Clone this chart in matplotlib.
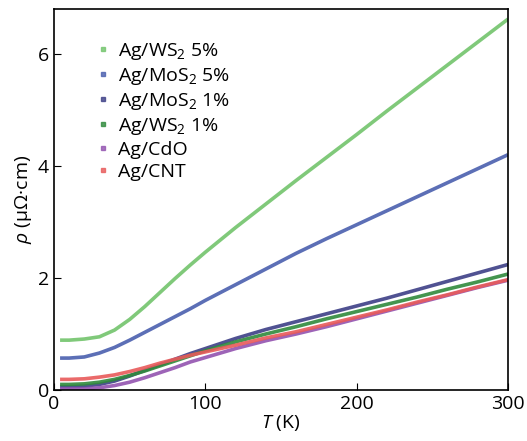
import matplotlib
matplotlib.use('Agg')
import matplotlib.pyplot as plt
from matplotlib.lines import Line2D

plt.rcParams['font.family'] = ['Open Sans', 'DejaVu Sans']
plt.rcParams['mathtext.fontset'] = 'custom'
plt.rcParams['mathtext.rm'] = 'Open Sans'
plt.rcParams['mathtext.it'] = 'Open Sans:italic'

# temperature grid (K)
T = [4, 10, 20, 30, 40, 50, 60, 70, 80, 90, 100, 120, 140, 160, 180,
     200, 220, 240, 260, 280, 300]

# resistivity (uOhm cm), read by eye
ws2_5 = [0.89, 0.89, 0.91, 0.95, 1.07, 1.26, 1.49, 1.74, 1.99, 2.23, 2.46,
         2.90, 3.32, 3.74, 4.15, 4.56, 4.98, 5.39, 5.80, 6.21, 6.62]
mos2_5 = [0.57, 0.57, 0.59, 0.66, 0.76, 0.89, 1.03, 1.17, 1.31, 1.45, 1.60,
          1.88, 2.16, 2.44, 2.70, 2.95, 3.20, 3.45, 3.70, 3.95, 4.20]
mos2_1 = [0.06, 0.06, 0.07, 0.10, 0.16, 0.25, 0.35, 0.45, 0.55, 0.65, 0.74,
          0.92, 1.08, 1.22, 1.36, 1.50, 1.64, 1.79, 1.94, 2.09, 2.24]
ws2_1 = [0.10, 0.10, 0.11, 0.14, 0.19, 0.26, 0.34, 0.43, 0.52, 0.61, 0.70,
         0.86, 1.00, 1.13, 1.27, 1.40, 1.53, 1.66, 1.80, 1.93, 2.07]
cdo = [0.02, 0.02, 0.02, 0.04, 0.08, 0.14, 0.22, 0.31, 0.40, 0.50, 0.58,
       0.74, 0.88, 1.00, 1.13, 1.27, 1.41, 1.55, 1.69, 1.83, 1.96]
cnt = [0.19, 0.19, 0.20, 0.23, 0.27, 0.33, 0.40, 0.48, 0.55, 0.62, 0.68,
       0.80, 0.93, 1.04, 1.17, 1.30, 1.43, 1.57, 1.70, 1.84, 1.97]

series = [
    ('Ag/WS$_2$ 5%', ws2_5, '#72c46c'),
    ('Ag/MoS$_2$ 5%', mos2_5, '#4a5fae'),
    ('Ag/MoS$_2$ 1%', mos2_1, '#3d3f86'),
    ('Ag/WS$_2$ 1%', ws2_1, '#2f8a3c'),
    ('Ag/CdO', cdo, '#9353b0'),
    ('Ag/CNT', cnt, '#e85a5a'),
]

fig = plt.figure(figsize=(5.27, 4.41), dpi=100)
ax = fig.add_axes([0.1025, 0.1156, 0.8615, 0.864])

handles = []
for label, vals, col in series:
    ax.plot(T, vals, color=col, lw=2.6, alpha=0.9, solid_capstyle='butt')
    handles.append(Line2D([], [], ls='none', marker='s', ms=3.5,
                          color=col, alpha=0.8, label=label))

ax.legend(handles=handles, loc='upper left', bbox_to_anchor=(0.043, 0.963),
          frameon=False, fontsize=14, handletextpad=0.2, labelspacing=0.21,
          handlelength=1.2)

ax.set_xlim(0, 300)
ax.set_ylim(0, 6.8)
ax.set_xticks([0, 100, 200, 300])
ax.set_yticks([0, 2, 4, 6])
ax.tick_params(direction='in', length=5, labelsize=14, top=False, right=False)
ax.set_xlabel('$T$ (K)', fontsize=14, labelpad=0)
ax.set_ylabel('$\\rho$ (μΩ·cm)', fontsize=14, labelpad=3)
for s in ax.spines.values():
    s.set_linewidth(1.2)

fig.savefig('out.png', dpi=100, facecolor='white')
